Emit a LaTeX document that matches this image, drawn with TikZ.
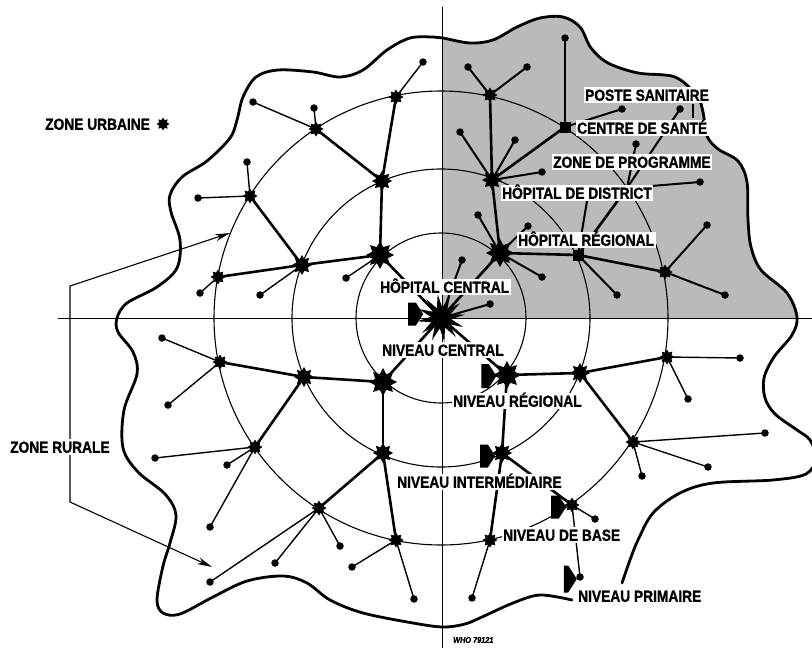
\documentclass[tikz,border=0pt]{standalone}
\usepackage{fontspec}
\newfontfamily\labfont[FakeStretch=0.86,FakeBold=1.2]{Liberation Sans}
\usetikzlibrary{shapes.geometric,shapes.symbols,arrows.meta}
\pgfdeclarelayer{shadelayer}
\pgfdeclarelayer{linklayer}
\pgfsetlayers{shadelayer,linklayer,main}
\begin{document}
\begin{tikzpicture}[x=1pt,y=-1pt,
  dotn/.style={circle,fill=black,inner sep=0pt,minimum size=7.5pt},
  sqn/.style={rectangle,fill=black,inner sep=0pt,minimum size=11pt},
  stR/.style={star,star points=8,star point ratio=1.65,fill=black,inner sep=0pt,minimum size=28pt},
  stI/.style={star,star points=8,star point ratio=1.6,fill=black,inner sep=0pt,minimum size=20pt},
  stB/.style={star,star points=8,star point ratio=1.55,fill=black,inner sep=0pt,minimum size=15pt},
  stC/.style={star,star points=12,star point ratio=2.3,fill=black,inner sep=0pt,minimum size=48pt,rotate=8},
  thk/.style={line width=2.6pt},
  thm/.style={line width=2pt},
  thn/.style={line width=1.4pt},
  circ/.style={line width=1.1pt},
  axisline/.style={line width=0.8pt},
  blobline/.style={line width=2.8pt,line join=round,line cap=round},
  lab/.style={fill=white,inner xsep=1.5pt,inner ysep=2pt,anchor=west,text height=11.5pt,text depth=0pt,font=\labfont\bfseries\fontsize{16}{16}\selectfont},
  lvl/.style={signal,signal to=east,signal pointer angle=115,fill=black,inner sep=0pt,minimum width=15pt,minimum height=23pt}
]
\useasboundingbox (0,0) rectangle (812,648);

% ---------- network nodes ----------
\node[stC] (C) at (441,318) {};
% regional
\node[stR] (S4) at (380,255) {};
\node[stR] (T4) at (500,253) {};
\node[stR] (L1) at (383,382) {};
\node[stR] (R1) at (507,375) {};
% intermediate
\node[stI] (S3) at (382,181) {};
\node[stI] (S6) at (302,265) {};
\node[stI] (T3) at (492,180) {};
\node[sqn] (T5) at (578,255) {};
\node[stI] (L3) at (304,377) {};
\node[stI] (L5) at (383,453) {};
\node[stI] (R2) at (580,373) {};
\node[stI] (R5) at (502,453) {};
% base
\node[stB] (S1) at (316,129) {};
\node[stB] (S2) at (396,97) {};
\node[stB] (S5) at (250,196) {};
\node[stB] (S7) at (218,277) {};
\node[stB] (T1) at (490,95) {};
\node[sqn] (T2) at (565,127) {};
\coordinate (X) at (627,188);
\node[stB] (T6) at (665,272) {};
\node[stB] (L2) at (220,362) {};
\node[stB] (L4) at (255,447) {};
\node[stB] (L6) at (319,508) {};
\node[stB] (L7) at (396,540) {};
\node[stB] (R3) at (667,357) {};
\node[stB] (R4) at (633,442) {};
\node[stB] (R6) at (490,540) {};
\node[stB] (R7) at (572,505) {};
% dots
\node[dotn] (a1) at (253,102) {};
\node[dotn] (a2) at (314,108) {};
\node[dotn] (a3) at (423,62) {};
\node[dotn] (a4) at (247,162) {};
\node[dotn] (a5) at (198,198) {};
\node[dotn] (a6) at (200,293) {};
\node[dotn] (a7) at (260,295) {};
\node[dotn] (a8) at (346,278) {};
\node[dotn] (b1) at (468,67) {};
\node[dotn] (b2) at (527,67) {};
\node[dotn] (b3) at (565,38) {};
\node[dotn] (b4) at (622,109) {};
\node[dotn] (b5) at (460,132) {};
\node[dotn] (b6) at (515,140) {};
\node[dotn] (b7) at (542,172) {};
\node[dotn] (b8) at (680,109) {};
\node[dotn] (b9) at (636,144) {};
\node[dotn] (b10) at (700,182) {};
\node[dotn] (b11) at (478,215) {};
\node[dotn] (b12) at (528,226) {};
\node[dotn] (b13) at (542,277) {};
\node[dotn] (b14) at (462,260) {};
\node[dotn] (b15) at (490,304) {};
\node[dotn] (b16) at (617,295) {};
\node[dotn] (b17) at (707,225) {};
\node[dotn] (b18) at (725,295) {};
\node[dotn] (c1) at (162,338) {};
\node[dotn] (c2) at (168,405) {};
\node[dotn] (c3) at (155,458) {};
\node[dotn] (c4) at (227,465) {};
\node[dotn] (c5) at (210,527) {};
\node[dotn] (c6) at (340,546) {};
\node[dotn] (c7) at (275,563) {};
\node[dotn] (c8) at (210,582) {};
\node[dotn] (c9) at (352,567) {};
\node[dotn] (c10) at (414,599) {};
\node[dotn] (e1) at (472,598) {};
\node[dotn] (e2) at (595,519) {};
\node[dotn] (e3) at (580,577) {};
\node[dotn] (e4) at (740,358) {};
\node[dotn] (e5) at (688,399) {};
\node[dotn] (e6) at (765,433) {};
\node[dotn] (e7) at (708,467) {};
\node[dotn] (e8) at (642,476) {};

% level arrows
\node[lvl] (AC) at (412,314) {};
\node[lvl,minimum height=24pt] (AR) at (485,376) {};
\node[lvl] (AI) at (484,456) {};
\node[lvl] (AB) at (555,507) {};
\node[lvl,minimum width=13pt,minimum height=27pt] (AP) at (566,579) {};

% helper coordinates
\coordinate (axL) at (58,318);
\coordinate (axR) at (812,318);
\coordinate (axT) at (442,7);
\coordinate (axB) at (442,648);
\coordinate (tipU) at (230,233);
\coordinate (brA) at (70,286);
\coordinate (brB) at (70,502);
\coordinate (tipD) at (212,567);
\coordinate (ldist) at (587,201);
\coordinate (barT) at (693,104);
\coordinate (barB) at (693,118);

% ---------- shaded programme zone ----------
\begin{pgfonlayer}{shadelayer}
\begin{scope}
\clip (442,0) rectangle (812,318);
\fill[black!27] plot[smooth,tension=0.55] coordinates {
(622,583) (630,560) (638,540) (653,513) (680,493) (713,483) (773,480) (806,474) (816,458) (810,440) (797,430) (775,414) (765,398) (764,378) (774,357) (792,335) (797,317) (787,293) (761,270) (751,247) (748,220) (747,182) (738,161) (718,149) (707,136) (703,112) (697,96) (675,77) (638,73) (608,63) (591,48) (580,27) (563,17) (540,18) (517,27) (493,40) (470,43) (443,38) (433,37) (410,38) (387,50) (363,70) (340,77) (313,72) (278,70) (256,77) (243,97) (237,120) (230,138) (207,161) (182,177) (170,195) (171,212) (180,240) (177,268) (157,287) (127,303) (117,318) (118,332) (133,352) (137,374) (124,410) (123,448) (138,472) (165,494) (176,515) (170,543) (163,566) (157,600) (163,613) (180,614) (213,597) (247,581) (283,576) (307,583) (330,600) (363,613) (413,623) (443,627) (465,624) (482,617) (513,603) (540,595) (572,600)} -- cycle;
\end{scope}
\draw[axisline] (axL) -- (axR);
\draw[axisline] (axT) -- (axB);
\end{pgfonlayer}

% ---------- circles and links ----------
\begin{pgfonlayer}{linklayer}
\draw[circ] (C.center) circle[radius=85];
\draw[circ] (C.center) circle[radius=149];
\draw[circ] (C.center) circle[radius=227];
% hierarchy links
\foreach \a/\b in {C/S4,C/T4,C/L1,C/R1,S4/S3,S4/S6,S3/S1,S3/S2,S6/S5,S6/S7,
  T4/T3,T4/T5,T3/T1,T3/T2,T5/T6,L1/L3,L1/L5,L3/L2,L3/L4,L5/L6,L5/L7,
  R1/R2,R1/R5,R2/R3,R2/R4,R5/R6,R5/R7}
  \draw[thk] (\a.center) -- (\b.center);
\draw[thk] (T5.center) -- (X);
% links to dots (programme zone)
\foreach \a/\b in {T1/b1,T1/b2,T2/b3,T2/b4,T3/b5,T3/b6,T3/b7,
  T4/b11,T4/b12,T4/b13,C/b14,C/b15,T5/b16,T6/b17,T6/b18}
  \draw[thm] (\a.center) -- (\b.center);
\draw[thm] (X) -- (b8.center);
\draw[thm] (X) -- (b9.center);
\draw[thm] (X) -- (b10.center);
% links to dots (elsewhere)
\foreach \a/\b in {S1/a1,S1/a2,S2/a3,S5/a4,S5/a5,S7/a6,S6/a7,S4/a8,
  L2/c1,L2/c2,L4/c3,L4/c4,L4/c5,L6/c6,L6/c7,L6/c8,L7/c9,L7/c10,
  R6/e1,R7/e2,R7/e3,R3/e4,R3/e5,R4/e6,R4/e7,R4/e8}
  \draw[thn] (\a.center) -- (\b.center);
% leaders
\draw[thm] (ldist) -- (T5.center);
\draw[line width=2.4pt] (barT) -- (barB);
% zone bracket
\draw[line width=1.1pt,{Stealth[length=15pt,width=7pt]}-{Stealth[length=15pt,width=7pt]}] (tipU) -- (brA) -- (brB) -- (tipD);
\end{pgfonlayer}

% ---------- outline of the country ----------
\draw[blobline] plot[smooth,tension=0.55] coordinates {
(622,583) (630,560) (638,540) (653,513) (680,493) (713,483) (773,480) (806,474) (816,458) (810,440) (797,430) (775,414) (765,398) (764,378) (774,357) (792,335) (797,317) (787,293) (761,270) (751,247) (748,220) (747,182) (738,161) (718,149) (707,136) (703,112) (697,96) (675,77) (638,73) (608,63) (591,48) (580,27) (563,17) (540,18) (517,27) (493,40) (470,43) (443,38) (433,37) (410,38) (387,50) (363,70) (340,77) (313,72) (278,70) (256,77) (243,97) (237,120) (230,138) (207,161) (182,177) (170,195) (171,212) (180,240) (177,268) (157,287) (127,303) (117,318) (118,332) (133,352) (137,374) (124,410) (123,448) (138,472) (165,494) (176,515) (170,543) (163,566) (157,600) (163,613) (180,614) (213,597) (247,581) (283,576) (307,583) (330,600) (363,613) (413,623) (443,627) (465,624) (482,617) (513,603) (540,595) (572,600)};

% ---------- labels ----------
\node[lab,fill=none] (lZU) at (43.5,124) {ZONE URBAINE};
\node[stB,minimum size=13pt] (zuStar) at (163,124) {};
\node[lab] (lZR) at (8.5,447) {ZONE RURALE};
\node[lab] (lPS) at (583.5,95) {POSTE SANITAIRE};
\node[lab] (lCS) at (575.5,128) {CENTRE DE SANTÉ};
\node[lab] (lZP) at (551.5,162) {ZONE DE PROGRAMME};
\node[lab] (lHD) at (500.5,193) {HÔPITAL DE DISTRICT};
\node[lab] (lHR) at (516.5,240) {HÔPITAL RÉGIONAL};
\node[lab] (lHC) at (378.5,287) {HÔPITAL CENTRAL};
\node[lab] (lNC) at (380.5,350) {NIVEAU CENTRAL};
\node[lab] (lNR) at (451.5,401) {NIVEAU RÉGIONAL};
\node[lab] (lNI) at (395.5,482) {NIVEAU INTERMÉDIAIRE};
\node[lab] (lNB) at (501.5,535) {NIVEAU DE BASE};
\node[lab] (lNP) at (576.5,596) {NIVEAU PRIMAIRE};
\node[anchor=west,inner sep=0pt,font=\labfont\bfseries\itshape\fontsize{8.5}{8.5}\selectfont] (who) at (453,640) {WHO 79121};
\end{tikzpicture}
\end{document}
